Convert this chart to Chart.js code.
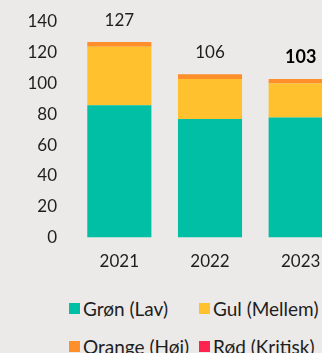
<!DOCTYPE html>
<html>
<head>
<meta charset="utf-8">
<script src="https://cdn.jsdelivr.net/npm/chart.js@4.4.1/dist/chart.umd.min.js"></script>
<style>
  body {
    margin: 0;
    background: #eceae8;
    overflow: hidden;
    font-family: Lato, sans-serif;
    color: #1e1e1e;
  }
  #wrap {
    position: absolute;
    left: 0;
    top: 0;
    width: 350px;
    height: 286px;
  }
  #legend {
    position: absolute;
    left: 69px;
    top: 298px;
    display: grid;
    grid-template-columns: 130px 140px;
    row-gap: 18px;
    font-size: 19px;
    white-space: nowrap;
  }
  .item {
    display: flex;
    align-items: center;
    height: 20px;
  }
  .box {
    width: 11px;
    height: 11px;
    margin-right: 3px;
  }
</style>
</head>
<body>
<div id="wrap"><canvas id="myChart"></canvas></div>
<div id="legend"></div>

<script>
// risk levels per year
const years = ['2021', '2022', '2023'];
const green = [86, 77, 78];
const yellow = [38, 26, 22];
const orange = [3, 3, 3];
const red = [0, 0, 0];
const yTicks = [0, 20, 40, 60, 80, 100, 120, 140];

const seriesNames = ['Grøn (Lav)', 'Gul (Mellem)', 'Orange (Høj)', 'Rød (Kritisk)'];
const seriesColors = ['#00bfa5', '#ffc12d', '#ff8f2a', '#ff2450'];
const seriesData = [green, yellow, orange, red];

// the last year gets a bold total
const boldYear = '2023';

const datasets = seriesData.map((data, i) => ({
    label: seriesNames[i],
    data: data,
    backgroundColor: seriesColors[i],
    borderWidth: 0,
    barPercentage: 0.707,
    categoryPercentage: 1
}));

// totals on top of each stack
const totalLabels = {
    id: 'totalLabels',
    afterDatasetsDraw(chart) {
        const ctx = chart.ctx;
        const yScale = chart.scales.y;
        const xScale = chart.scales.x;
        ctx.save();
        ctx.textAlign = 'center';
        ctx.textBaseline = 'middle';
        years.forEach((year, i) => {
            const total = seriesData.reduce((sum, s) => sum + s[i], 0);
            const x = xScale.getPixelForValue(i);
            const y = yScale.getPixelForValue(total) - 22;
            if (year === boldYear) {
                ctx.font = 'bold 18px Lato';
                ctx.fillStyle = '#000';
            } else {
                ctx.font = '17px Lato';
                ctx.fillStyle = '#1e1e1e';
            }
            ctx.fillText(String(total), x, y);
        });
        ctx.restore();
    }
};

const ctx = document.getElementById('myChart').getContext('2d');

new Chart(ctx, {
    type: 'bar',
    data: {
        labels: years,
        datasets: datasets
    },
    options: {
        responsive: true,
        maintainAspectRatio: false,
        animation: false,
        layout: {
            padding: { top: 22, right: 4, left: 0, bottom: 0 }
        },
        plugins: {
            legend: { display: false },
            tooltip: { enabled: false }
        },
        scales: {
            x: {
                stacked: true,
                grid: { display: false, drawTicks: false },
                border: { display: false },
                ticks: {
                    color: '#1e1e1e',
                    font: { family: 'Lato', size: 17 },
                    padding: 14
                }
            },
            y: {
                stacked: true,
                min: 0,
                max: 140,
                grid: { display: false, drawTicks: false },
                border: { display: false },
                afterFit: scale => {
                    scale.width = 74;
                    scale.paddingTop = 0;
                    scale.paddingBottom = 0;
                },
                afterBuildTicks: scale => {
                    scale.ticks = yTicks.map(v => ({ value: v }));
                },
                ticks: {
                    color: '#1e1e1e',
                    font: { family: 'Lato', size: 17 },
                    padding: 17
                }
            }
        }
    },
    plugins: [totalLabels]
});

// legend in two columns
const legendDiv = document.getElementById('legend');
seriesNames.forEach((name, i) => {
    const item = document.createElement('div');
    item.className = 'item';
    item.innerHTML = `<span class="box" style="background:${seriesColors[i]}"></span>${name}`;
    legendDiv.appendChild(item);
});
</script>
</body>
</html>
